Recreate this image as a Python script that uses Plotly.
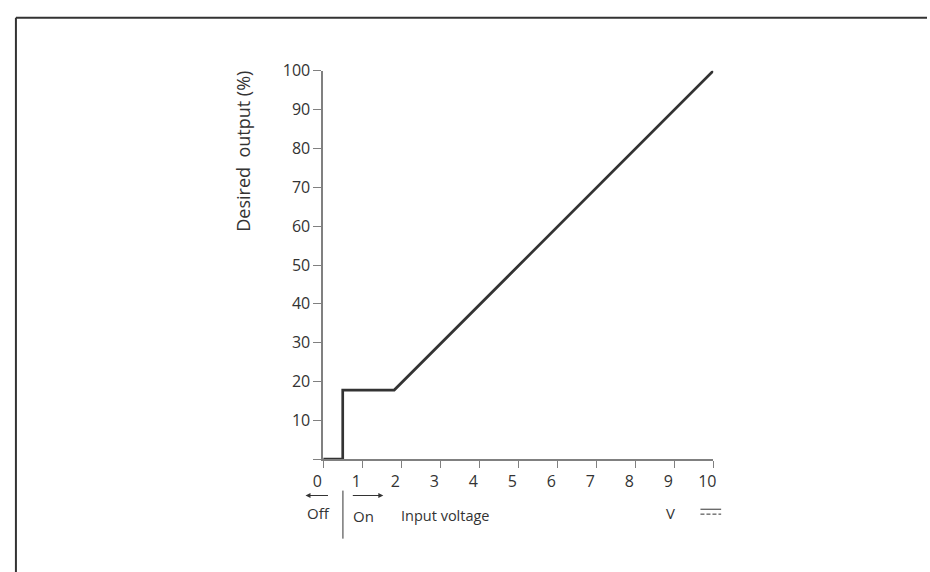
import plotly.graph_objects as go

# input voltage (V) vs desired output (%)
voltage = [0, 0.5, 0.5, 1.82, 10]
output = [0, 0, 17.8, 17.8, 100]

x_ticks = list(range(0, 11))
y_ticks = list(range(0, 101, 10))
y_tick_text = [""] + [str(v) for v in y_ticks[1:]]

W, H = 930, 572
FONT = "Open Sans"
INK = "#333333"
AXIS = "#808080"


def px(x):
    return x / W


def py(y):
    return 1 - y / H


def label(fig, text, x, y, size=15, **kw):
    fig.add_annotation(text=text, x=px(x), y=py(y), xref="paper", yref="paper",
                       xanchor="center", yanchor="middle", showarrow=False,
                       font=dict(size=size), **kw)


def arrow(fig, x_head, x_tail, y):
    fig.add_annotation(text="", x=px(x_head), y=py(y), xref="paper", yref="paper",
                       ax=x_tail - x_head, ay=0, showarrow=True, arrowhead=2,
                       arrowsize=1, arrowwidth=1, arrowcolor=INK)


fig = go.Figure()
fig.add_trace(go.Scatter(
    x=voltage, y=output, mode="lines",
    line=dict(color=INK, width=2.7),
    cliponaxis=False, showlegend=False, hoverinfo="skip",
))

fig.update_layout(
    width=W, height=H,
    margin=dict(l=0, r=0, t=0, b=0),
    paper_bgcolor="white", plot_bgcolor="white",
    font=dict(family=FONT, size=16, color=INK),
    xaxis=dict(
        domain=[px(317), px(713)], range=[0, 10],
        tickvals=x_ticks, ticktext=[str(v) for v in x_ticks],
        ticks="outside", ticklen=7, tickcolor=AXIS, tickwidth=1.2,
        showline=True, linecolor=AXIS, linewidth=1.5,
        showgrid=False, zeroline=False, ticklabelshift=-6,
    ),
    yaxis=dict(
        domain=[py(457), py(61)], range=[0, 100],
        tickvals=y_ticks, ticktext=y_tick_text,
        ticks="outside", ticklen=8, tickcolor=AXIS, tickwidth=1.2,
        showline=True, linecolor=AXIS, linewidth=1.5,
        showgrid=False, zeroline=False,
    ),
)

# y title, sits high beside the axis
label(fig, "Desired  output (%)", 236, 143, size=18, textangle=-90)

# Off / On legend under the axis
label(fig, "Off", 312, 512)
label(fig, "On", 358, 515)
label(fig, "Input voltage", 441, 514, size=14.5)
label(fig, "V", 670, 512)
arrow(fig, 299, 323, 494)
arrow(fig, 378, 346, 494)

shapes = [
    # separator between off and on
    dict(type="line", x0=px(337), x1=px(337), y0=py(489), y1=py(538),
         line=dict(color=INK, width=1)),
    # DC symbol
    dict(type="line", x0=px(700), x1=px(721), y0=py(508), y1=py(508),
         line=dict(color=INK, width=1)),
    dict(type="line", x0=px(700), x1=px(721), y0=py(513), y1=py(513),
         line=dict(color=INK, width=1, dash="4px,2px")),
    # outer frame (left and top edges)
    dict(type="line", x0=px(5), x1=px(5), y0=0, y1=py(7),
         line=dict(color=INK, width=2)),
    dict(type="line", x0=px(5), x1=1, y0=py(7), y1=py(7),
         line=dict(color=INK, width=2)),
]
for s in shapes:
    s.update(xref="paper", yref="paper")
    fig.add_shape(**s)

# drop the default page margin so the figure sits at the window corner
fig.write_html("out.html", config={"displayModeBar": False},
               post_script="document.body.style.margin='0';")
